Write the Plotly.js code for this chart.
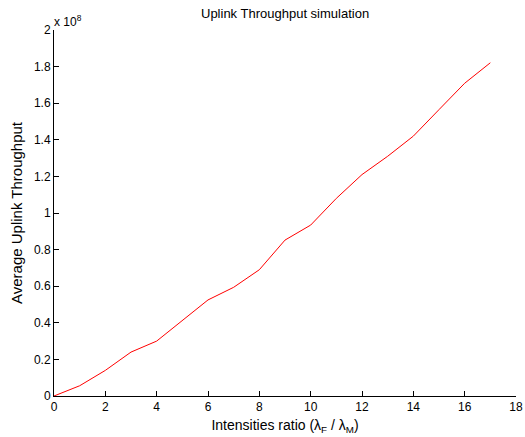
<!DOCTYPE html>
<html>
<head>
<meta charset="utf-8">
<script src="https://cdn.plot.ly/plotly-3.0.1.min.js"></script>
<style>html,body{margin:0;padding:0;background:#fff}#chart{width:525px;height:437px}</style>
</head>
<body>
<div id="chart"></div>
<script>
const ratio = [0,1,2,3,4,5,6,7,8,9,10,11,12,13,14,15,16,17];
const throughput = [0, 0.056e8, 0.14e8, 0.24e8, 0.30e8, 0.415e8, 0.525e8, 0.594e8, 0.69e8, 0.852e8, 0.934e8, 1.08e8, 1.21e8, 1.31e8, 1.42e8, 1.565e8, 1.709e8, 1.821e8];
const yTickVals = [0,0.2e8,0.4e8,0.6e8,0.8e8,1.0e8,1.2e8,1.4e8,1.6e8,1.8e8,2.0e8];
const yTickText = ["0","0.2","0.4","0.6","0.8","1","1.2","1.4","1.6","1.8","2"];
const xTickVals = [0,2,4,6,8,10,12,14,16,18];

const fam = "Liberation Sans, Arial, sans-serif";
const tickFont = {family: fam, size: 12, color: "#000"};

Plotly.newPlot("chart", [{
  x: ratio, y: throughput, type: "scatter", mode: "lines",
  line: {color: "#ff0000", width: 1}, hoverinfo: "skip"
}], {
  width: 525, height: 437,
  margin: {l: 54, r: 9, t: 30, b: 41},
  paper_bgcolor: "#fff", plot_bgcolor: "#fff",
  font: tickFont,
  showlegend: false,
  title: {text: "Uplink Throughput simulation", x: 0.543, xanchor: "center", y: 0.98, yanchor: "top", font: {family: fam, size: 13, color: "#000"}},
  xaxis: {
    range: [0, 18], tickvals: xTickVals, ticks: "inside", ticklen: 5, tickcolor: "#000",
    showline: true, linecolor: "#000", linewidth: 1, showgrid: false, zeroline: false, mirror: false,
    tickfont: tickFont,
    title: {text: "Intensities ratio (λ<sub>F</sub> / λ<sub>M</sub>)", font: {family: fam, size: 14, color: "#000"}, standoff: 6}
  },
  yaxis: {
    range: [0, 2e8], tickvals: yTickVals, ticktext: yTickText, ticks: "inside", ticklen: 5, tickcolor: "#000",
    showline: true, linecolor: "#000", linewidth: 1, showgrid: false, zeroline: false, mirror: false,
    tickfont: tickFont,
    title: {text: "Average Uplink Throughput", font: {family: fam, size: 15, color: "#000"}, standoff: 7}
  },
  annotations: [{
    text: "x 10<sup>8</sup>", xref: "paper", yref: "paper", x: 0, y: 1, xanchor: "left", yanchor: "bottom",
    showarrow: false, font: {family: fam, size: 12, color: "#000"}, xshift: -2, yshift: -1
  }]
}, {staticPlot: true});
</script>
</body>
</html>
